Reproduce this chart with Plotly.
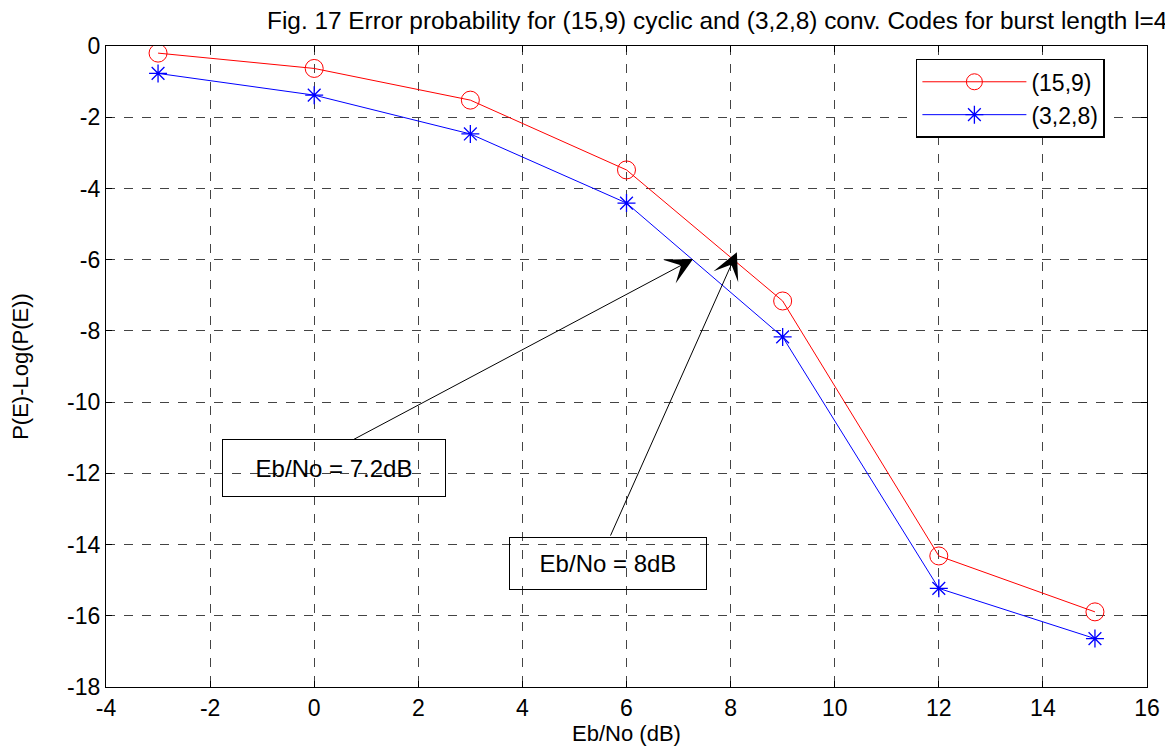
import plotly.graph_objects as go

ebno = [-3, 0, 3, 6, 9, 12, 15]
cyclic_15_9 = [-0.20, -0.63, -1.52, -3.48, -7.16, -14.32, -15.89]
conv_3_2_8 = [-0.77, -1.38, -2.47, -4.41, -8.17, -15.23, -16.64]
series_names = ["(15,9)", "(3,2,8)"]
x_ticks = list(range(-4, 17, 2))
y_ticks = list(range(-18, 1, 2))
x_ticklabels = [str(v) for v in x_ticks]
y_ticklabels = [str(v) for v in y_ticks]

# annotation data: (text, box center x, box center y, tail x, tail y, head x, head y)
notes = [
    ("Eb/No = 7.2dB", 0.38, -11.85, 0.73, -11.07, 7.28, -5.98),
    ("Eb/No = 8dB", 5.64, -14.52, 5.68, -13.79, 8.12, -5.79),
]
note_box_px = [(222, 56), (196, 51)]

FONT = "Liberation Sans, Arial, sans-serif"

fig = go.Figure()
fig.add_trace(go.Scatter(
    x=ebno, y=cyclic_15_9, name=series_names[0], mode="lines+markers",
    line=dict(color="#ff0000", width=1),
    marker=dict(symbol="circle-open", size=18, color="#ff0000", line=dict(width=1)),
))
fig.add_trace(go.Scatter(
    x=ebno, y=conv_3_2_8, name=series_names[1], mode="lines+markers",
    line=dict(color="#0000ff", width=1),
    marker=dict(symbol="asterisk-open", size=15, color="#0000ff", line=dict(width=1.3, color="#0000ff")),
))

for (text, bx, by, tx, ty, hx, hy), (bw, bh) in zip(notes, note_box_px):
    fig.add_annotation(x=hx, y=hy, ax=tx, ay=ty, xref="x", yref="y", axref="x", ayref="y",
                       text="", showarrow=True, arrowhead=3, arrowsize=4.5, arrowwidth=1,
                       arrowcolor="black")
    fig.add_annotation(x=bx, y=by, xref="x", yref="y", text=text, showarrow=False,
                       font=dict(family=FONT, size=24, color="black"),
                       width=bw, height=bh, borderpad=0, valign="middle", yshift=0,
                       bordercolor="black", borderwidth=1, bgcolor="rgba(255,255,255,0)")

axis_common = dict(
    showline=True, linecolor="black", linewidth=1.2, mirror="ticks",
    ticks="inside", ticklen=6, tickcolor="black",
    showgrid=True, gridcolor="#444444", griddash="dash", gridwidth=1,
    zeroline=False, tickfont=dict(family=FONT, size=23, color="black"),
    automargin=False,
)

fig.update_layout(
    width=1165, height=747,
    margin=dict(l=98, r=26, t=38, b=68),
    paper_bgcolor="white", plot_bgcolor="white",
    font=dict(family=FONT, color="black"),
    xaxis=dict(range=[-4, 16], tickvals=x_ticks, ticktext=x_ticklabels, **axis_common,
               title=dict(text="Eb/No (dB)", font=dict(family=FONT, size=22), standoff=4)),
    yaxis=dict(range=[-18, 0], tickvals=y_ticks, ticktext=y_ticklabels, **axis_common,
               title=dict(text="P(E)-Log(P(E))", font=dict(family=FONT, size=22), standoff=34)),
    legend=dict(x=0.778, y=0.98, xanchor="left", yanchor="top",
                bordercolor="black", borderwidth=1.5, bgcolor="white",
                font=dict(family=FONT, size=23, color="black"),
                itemwidth=104, tracegroupgap=0),
    showlegend=True,
)

fig.add_annotation(
    text="Fig. 17 Error probability for (15,9) cyclic and (3,2,8) conv. Codes for burst length l=4",
    xref="paper", yref="paper", x=0.1527, y=1.0, xanchor="left", yanchor="bottom", yshift=10,
    showarrow=False, font=dict(family=FONT, size=24.4, color="black"),
)

fig.write_html("out.html")
